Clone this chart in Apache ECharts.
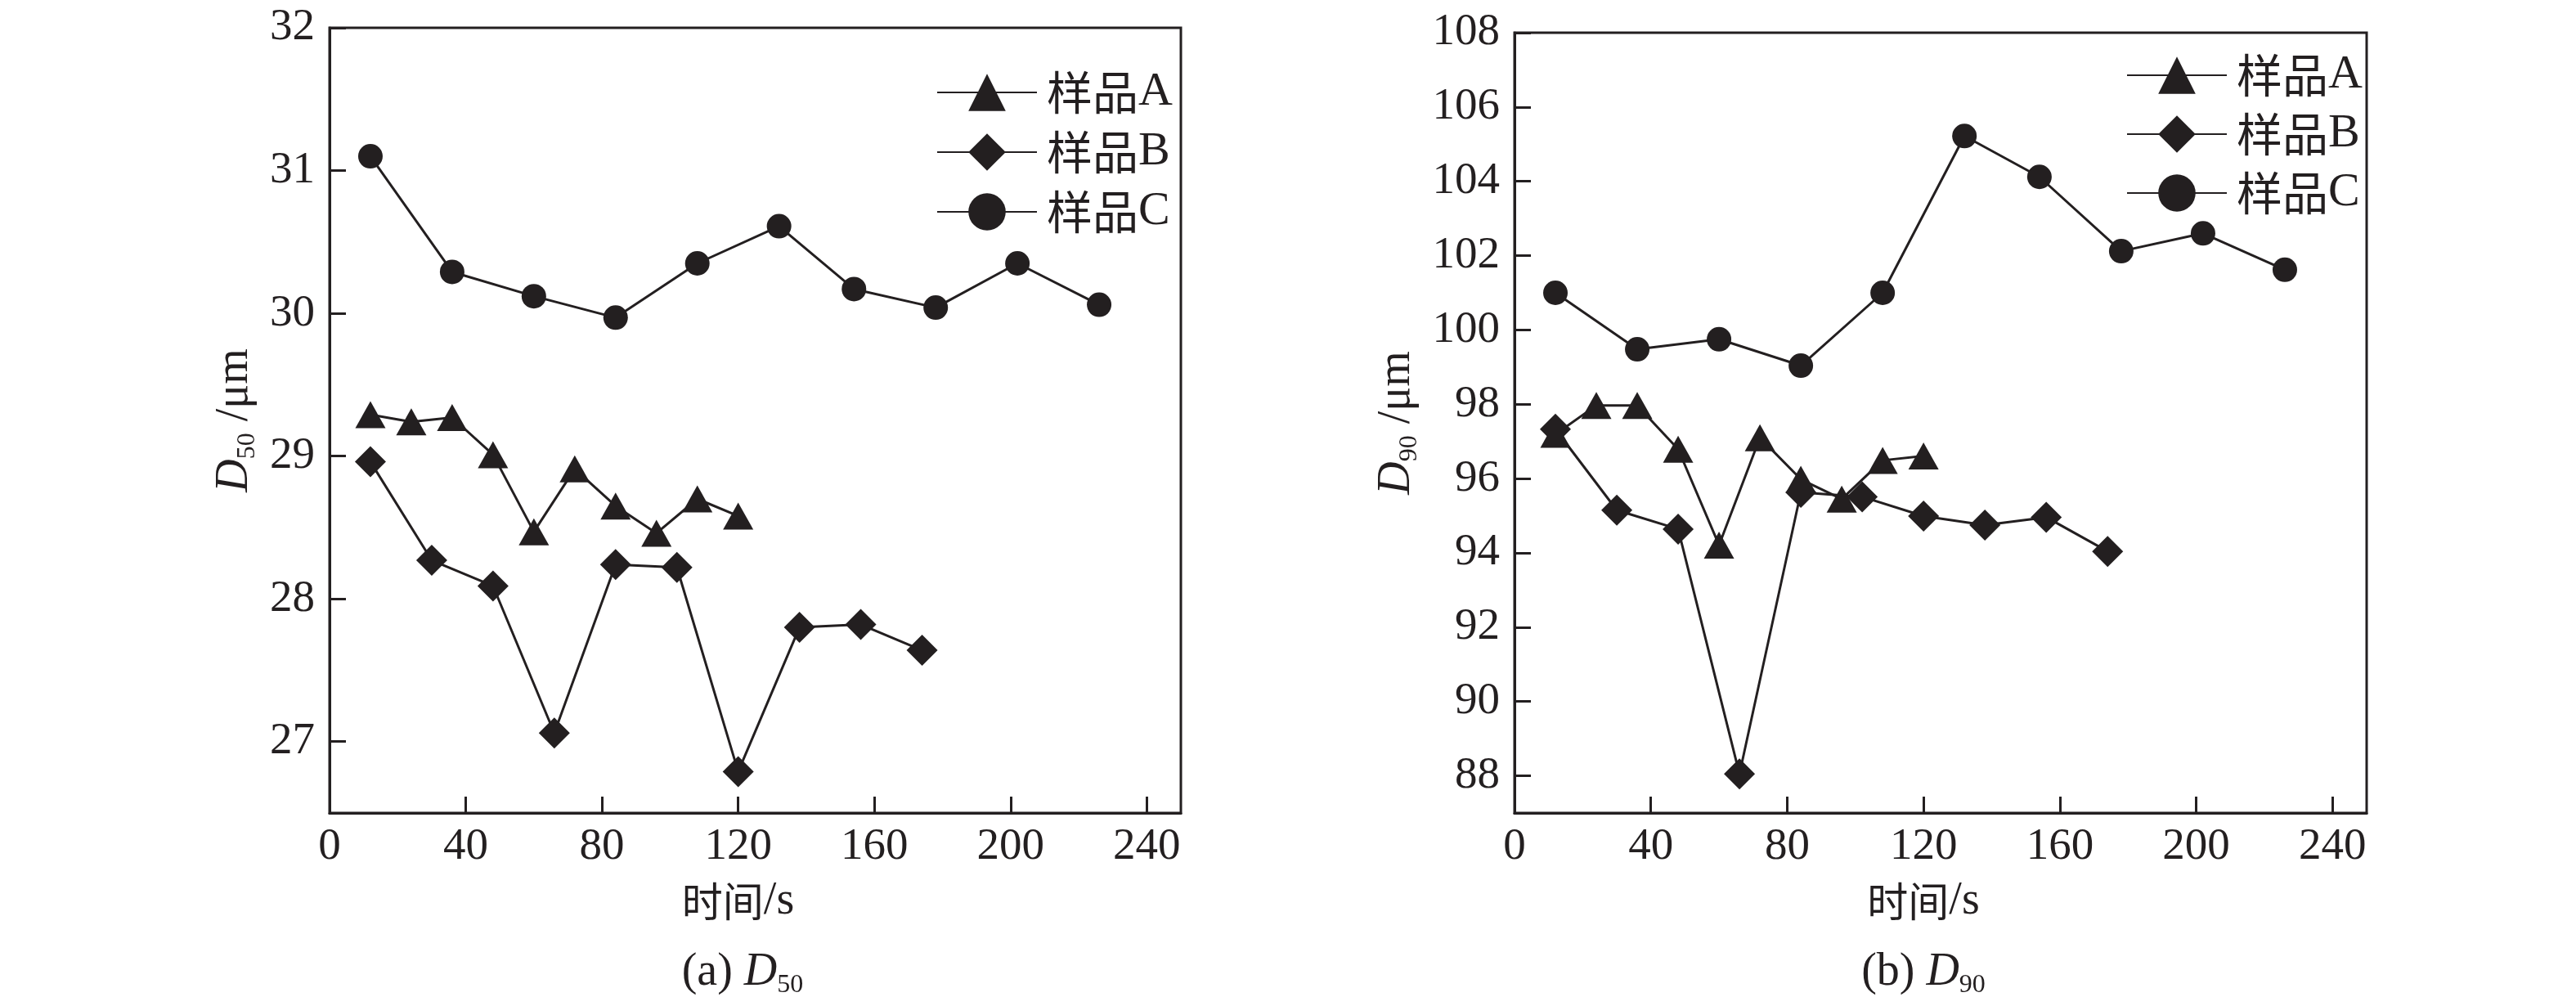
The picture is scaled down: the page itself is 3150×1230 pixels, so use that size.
<!DOCTYPE html>
<html>
<head>
<meta charset="utf-8">
<script src="https://cdn.jsdelivr.net/npm/echarts@6/dist/echarts.min.js"></script>
<style>
html, body { margin: 0; background: #fff; }
#chart { width: 3150px; height: 1230px; }
</style>
</head>
<body>
<div id="chart"></div>
<script>
// 时间/s
var timeA = [12, 24, 36, 48, 60, 72, 84, 96, 108, 120];
var timeB = [12, 30, 48, 66, 84, 102, 120, 138, 156, 174];
var timeC = [12, 36, 60, 84, 108, 132, 154, 178, 202, 226];

// (a) D50 /μm
var d50A = [29.29, 29.24, 29.27, 29.01, 28.47, 28.91, 28.65, 28.46, 28.70, 28.58];
var d50B = [28.96, 28.27, 28.09, 27.06, 28.24, 28.22, 26.79, 27.80, 27.82, 27.64];
var d50C = [31.10, 30.29, 30.12, 29.97, 30.35, 30.61, 30.17, 30.04, 30.35, 30.06];

// (b) D90 /μm
var d90A = [97.19, 97.97, 97.97, 96.79, 94.21, 97.10, 95.98, 95.45, 96.49, 96.61];
var d90B = [97.33, 95.15, 94.64, 88.05, 95.63, 95.51, 94.99, 94.75, 94.96, 94.04];
var d90C = [101.00, 99.48, 99.75, 99.04, 101.00, 105.22, 104.12, 102.12, 102.60, 101.62];

var names = ['样品A', '样品B', '样品C'];
var xTicks = [0, 40, 80, 120, 160, 200, 240];
var d50Ticks = [27, 28, 29, 30, 31, 32];
var d90Ticks = [88, 90, 92, 94, 96, 98, 100, 102, 104, 106, 108];

var ink = '#231f20';
var serif = 'Liberation Serif';
var cjk = 'Noto Sans CJK SC';

var rich = {
    n: { fontFamily: serif, fontSize: 56, fontWeight: 'normal', color: ink, lineHeight: 64 },
    i: { fontFamily: serif, fontSize: 56, fontWeight: 'normal', fontStyle: 'italic', color: ink, lineHeight: 64 },
    s: { fontFamily: serif, fontSize: 32, fontWeight: 'normal', color: ink, verticalAlign: 'bottom' },
    c: { fontFamily: cjk, fontSize: 50, fontWeight: 'normal', color: ink, lineHeight: 64 },
    lc: { fontFamily: cjk, fontSize: 56, fontWeight: 'normal', color: ink, lineHeight: 64 },
    ln: { fontFamily: serif, fontSize: 58, fontWeight: 'normal', color: ink, lineHeight: 64 }
};

var symbols = ['triangle', 'diamond', 'circle'];
var symbolSizes = [[37, 33], 38, 30];

function pairs(t, v) {
    return t.map(function (x, i) { return [x, v[i]]; });
}

function makeSeries(idx, list) {
    var times = [timeA, timeB, timeC];
    return list.map(function (vals, k) {
        return {
            name: names[k],
            type: 'line',
            xAxisIndex: idx,
            yAxisIndex: idx,
            data: pairs(times[k], vals),
            symbol: symbols[k],
            symbolSize: symbolSizes[k],
            showAllSymbol: true,
            lineStyle: { color: ink, width: 3 },
            itemStyle: { color: ink },
            emphasis: { disabled: true },
            animation: false,
            z: 2 + k
        };
    });
}

function xAxisOf(idx) {
    return {
        gridIndex: idx,
        type: 'value',
        min: 0,
        max: 250,
        axisLine: { show: true, onZero: false, lineStyle: { color: ink, width: 3 } },
        axisTick: { show: true, inside: true, length: 20, customValues: xTicks, lineStyle: { color: ink, width: 3 } },
        axisLabel: { customValues: xTicks, fontFamily: serif, fontSize: 55, color: ink, margin: 14 },
        splitLine: { show: false },
        name: '{c|时间}{n|/s}',
        nameLocation: 'middle',
        nameGap: 76,
        nameMoveOverlap: false,
        nameTextStyle: { rich: rich, padding: [0, 42, 0, 0] }
    };
}

function yAxisOf(idx, min, max, ticks, sub, gap) {
    return {
        gridIndex: idx,
        type: 'value',
        min: min,
        max: max,
        axisLine: { show: true, onZero: false, lineStyle: { color: ink, width: 3 } },
        axisTick: { show: true, inside: true, length: 20, customValues: ticks, lineStyle: { color: ink, width: 3 } },
        axisLabel: { customValues: ticks, fontFamily: serif, fontSize: 55, color: ink, margin: 18 },
        splitLine: { show: false },
        name: '{i|D}{s|' + sub + '}{n| /μm}',
        nameLocation: 'middle',
        nameRotate: 90,
        nameGap: gap,
        nameMoveOverlap: false,
        nameTextStyle: { rich: rich }
    };
}

function legendOf(left, top, gap) {
    return {
        data: names,
        orient: 'vertical',
        left: left,
        top: top,
        itemWidth: 122,
        itemHeight: 57,
        itemGap: gap,
        selectedMode: false,
        formatter: function (name) {
            return '{lc|' + name.slice(0, 2) + '}{ln|' + name.slice(2) + '}';
        },
        textStyle: { rich: rich, padding: [0, 0, 0, 7] }
    };
}

var chart = echarts.init(document.getElementById('chart'), null, { renderer: 'canvas' });

var option = {
    backgroundColor: '#fff',
    animation: false,
    title: [
        {
            text: '{n|(a) }{i|D}{s|50}',
            left: 903, top: 1152, textAlign: 'center',
            textStyle: { fontWeight: 'normal', rich: rich }
        },
        {
            text: '{n|(b) }{i|D}{s|90}',
            left: 2347, top: 1152, textAlign: 'center',
            textStyle: { fontWeight: 'normal', rich: rich }
        }
    ],
    legend: [legendOf(1140, 79, 15), legendOf(2595, 58, 14)],
    grid: [
        { left: 403, top: 34, width: 1041, height: 960, containLabel: false, outerBoundsMode: 'none',
          show: true, borderColor: ink, borderWidth: 3, backgroundColor: 'transparent' },
        { left: 1852, top: 40, width: 1042, height: 954, containLabel: false, outerBoundsMode: 'none',
          show: true, borderColor: ink, borderWidth: 3, backgroundColor: 'transparent' }
    ],
    xAxis: [xAxisOf(0), xAxisOf(1)],
    yAxis: [
        yAxisOf(0, 26.5, 32, d50Ticks, '50', 84),
        yAxisOf(1, 87, 108, d90Ticks, '90', 112)
    ],
    series: makeSeries(0, [d50A, d50B, d50C]).concat(makeSeries(1, [d90A, d90B, d90C]))
};

chart.setOption(option);
</script>
</body>
</html>
